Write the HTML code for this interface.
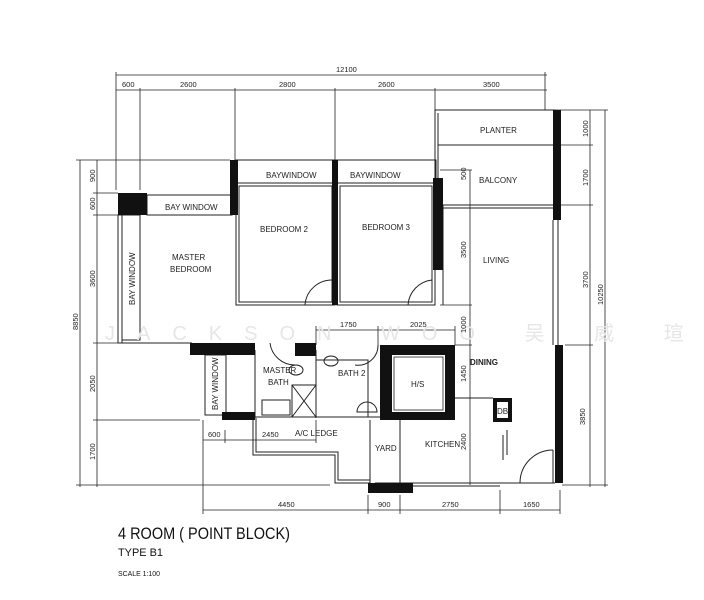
<!DOCTYPE html>
<html><head><meta charset="utf-8"><style>
body{margin:0;background:#fff;}
svg{display:block;font-family:"Liberation Sans","Noto Sans CJK SC",sans-serif;}
.t{font-size:8px;fill:#222;}
.d{font-size:7.5px;fill:#222;}
</style></head><body>
<svg width="704" height="600" viewBox="0 0 704 600" xmlns="http://www.w3.org/2000/svg">
<g stroke="#222" stroke-width="0.8" fill="none">
<line x1="116" y1="75" x2="547" y2="75"/>
<line x1="116" y1="90" x2="547" y2="90"/>
<line x1="116" y1="72" x2="116" y2="190"/>
<line x1="140" y1="88" x2="140" y2="190"/>
<line x1="235" y1="88" x2="235" y2="160"/>
<line x1="335" y1="88" x2="335" y2="160"/>
<line x1="435" y1="88" x2="435" y2="110"/>
<line x1="545" y1="72" x2="545" y2="110"/>
<line x1="80" y1="160" x2="80" y2="487"/>
<line x1="97" y1="160" x2="97" y2="487"/>
<line x1="76" y1="160" x2="230" y2="160"/>
<line x1="93" y1="193" x2="118" y2="193"/>
<line x1="93" y1="215" x2="118" y2="215"/>
<line x1="93" y1="343" x2="120" y2="343"/>
<line x1="93" y1="420" x2="200" y2="420"/>
<line x1="76" y1="485" x2="330" y2="485"/>
<line x1="590" y1="110" x2="590" y2="487"/>
<line x1="605" y1="110" x2="605" y2="487"/>
<line x1="555" y1="110" x2="608" y2="110"/>
<line x1="555" y1="145" x2="593" y2="145"/>
<line x1="555" y1="205" x2="593" y2="205"/>
<line x1="565" y1="345" x2="593" y2="345"/>
<line x1="562" y1="485" x2="608" y2="485"/>
<line x1="470" y1="170" x2="470" y2="485"/>
<line x1="440" y1="170" x2="472" y2="170"/>
<line x1="445" y1="205" x2="472" y2="205"/>
<line x1="440" y1="305" x2="472" y2="305"/>
<line x1="455" y1="345" x2="472" y2="345"/>
<line x1="455" y1="398" x2="472" y2="398"/>
<line x1="316" y1="330" x2="455" y2="330"/>
<line x1="316" y1="326" x2="316" y2="345"/>
<line x1="378" y1="326" x2="378" y2="345"/>
<line x1="455" y1="326" x2="455" y2="345"/>
<line x1="203" y1="510" x2="560" y2="510"/>
<line x1="203" y1="420" x2="203" y2="514"/>
<line x1="368" y1="495" x2="368" y2="514"/>
<line x1="400" y1="495" x2="400" y2="514"/>
<line x1="500" y1="490" x2="500" y2="514"/>
<line x1="560" y1="490" x2="560" y2="514"/>
<line x1="203" y1="440" x2="316" y2="440"/>
<line x1="225" y1="430" x2="225" y2="443"/>
<line x1="316" y1="420" x2="316" y2="443"/>
</g>
<g stroke="#222" stroke-width="1" fill="none">
<rect x="236" y="160" width="200" height="23"/>
<rect x="236" y="183" width="99" height="122"/>
<rect x="239" y="186" width="93" height="116"/>
<rect x="337" y="183" width="98" height="122"/>
<rect x="340" y="186" width="92" height="116"/>
<rect x="147" y="195" width="85" height="20"/>
<rect x="118" y="215" width="4" height="128"/>
<rect x="122" y="215" width="18" height="125"/>
<line x1="118" y1="343" x2="192" y2="343"/>
<rect x="435" y="110" width="120" height="95"/>
<line x1="438" y1="113" x2="438" y2="205"/>
<line x1="438" y1="145" x2="553" y2="145"/>
<line x1="443" y1="205" x2="555" y2="205"/>
<line x1="443" y1="208" x2="555" y2="208"/>
<line x1="443" y1="205" x2="443" y2="305"/>
<line x1="553" y1="220" x2="553" y2="345"/>
<line x1="558" y1="220" x2="558" y2="345"/>
<rect x="205" y="355" width="21" height="60"/>
<path d="M253 418 V455 H335 V483 H370"/>
<path d="M256 418 V452 H338 V480 H370"/>
<line x1="255" y1="350" x2="255" y2="418"/>
<line x1="255" y1="417" x2="380" y2="417"/>
<line x1="316" y1="350" x2="316" y2="418"/>
<line x1="370" y1="420" x2="370" y2="483"/>
<line x1="375" y1="483" x2="555" y2="483"/>
<line x1="375" y1="486" x2="500" y2="486"/>
<line x1="400" y1="420" x2="400" y2="483"/>
<line x1="455" y1="398" x2="493" y2="398"/>
<rect x="316" y="360" width="52" height="57"/>
<rect x="262" y="400" width="28" height="15"/>
<path d="M357 412 a10 10 0 0 1 20 0 z"/>
<ellipse cx="296" cy="370" rx="7" ry="5"/>
<ellipse cx="331" cy="361" rx="7" ry="5"/>
<line x1="507" y1="430" x2="507" y2="455"/>
<line x1="503" y1="435" x2="503" y2="460"/>
<path d="M520 483 A33 33 0 0 1 553 450"/>
<line x1="553" y1="450" x2="553" y2="483"/>
<path d="M305 305 A27 27 0 0 1 332 280"/>
<path d="M408 305 A27 27 0 0 1 432 280"/>
<path d="M270 343 A25 25 0 0 0 295 365"/>
<path d="M378 345 A20 20 0 0 1 355 365"/>
<rect x="292" y="385" width="24" height="32"/>
<line x1="292" y1="385" x2="316" y2="417"/>
<line x1="316" y1="385" x2="292" y2="417"/>
</g>
<g fill="#111">
<rect x="118" y="193" width="29" height="22"/>
<rect x="230" y="160" width="8" height="55"/>
<rect x="332" y="160" width="6" height="145"/>
<rect x="433" y="178" width="10" height="92"/>
<rect x="553" y="110" width="8" height="110"/>
<rect x="555" y="345" width="8" height="138"/>
<rect x="190" y="343" width="65" height="12"/>
<rect x="222" y="412" width="33" height="8"/>
<rect x="295" y="343" width="21" height="13"/>
<rect x="380" y="345" width="75" height="10"/>
<rect x="380" y="345" width="12" height="75"/>
<rect x="445" y="345" width="10" height="75"/>
<rect x="380" y="412" width="75" height="8"/>
<rect x="368" y="483" width="45" height="10"/>
<rect x="493" y="398" width="19" height="24"/>
</g>
<rect x="497" y="402" width="11" height="16" fill="#fff"/>
<rect x="394" y="357" width="49" height="53" fill="#fff" stroke="#222" stroke-width="0.8"/>
<text x="105" y="340" font-size="20" fill="#e6e6e6" letter-spacing="22">JACKSON WOO 吴 威 瑄</text>
<text class="d" x="336" y="72">12100</text>
<text class="d" x="122" y="87">600</text>
<text class="d" x="180" y="87">2600</text>
<text class="d" x="279" y="87">2800</text>
<text class="d" x="378" y="87">2600</text>
<text class="d" x="483" y="87">3500</text>
<g class="d">
<text transform="translate(78,330) rotate(-90)">8850</text>
<text transform="translate(95,182) rotate(-90)">900</text>
<text transform="translate(95,210) rotate(-90)">600</text>
<text transform="translate(95,287) rotate(-90)">3600</text>
<text transform="translate(95,392) rotate(-90)">2050</text>
<text transform="translate(95,460) rotate(-90)">1700</text>
<text transform="translate(588,137) rotate(-90)">1000</text>
<text transform="translate(588,186) rotate(-90)">1700</text>
<text transform="translate(588,288) rotate(-90)">3700</text>
<text transform="translate(603,305) rotate(-90)">10250</text>
<text transform="translate(585,425) rotate(-90)">3850</text>
<text transform="translate(466,180) rotate(-90)">500</text>
<text transform="translate(466,258) rotate(-90)">3500</text>
<text transform="translate(466,333) rotate(-90)">1000</text>
<text transform="translate(466,382) rotate(-90)">1450</text>
<text transform="translate(466,450) rotate(-90)">2400</text>
</g>
<text class="d" x="340" y="327">1750</text>
<text class="d" x="410" y="327">2025</text>
<text class="d" x="278" y="507">4450</text>
<text class="d" x="378" y="507">900</text>
<text class="d" x="442" y="507">2750</text>
<text class="d" x="523" y="507">1650</text>
<text class="d" x="208" y="437">600</text>
<text class="d" x="262" y="437">2450</text>
<text class="t" x="295" y="436">A/C LEDGE</text>
<text class="t" x="165" y="210">BAY WINDOW</text>
<text class="t" x="266" y="178">BAYWINDOW</text>
<text class="t" x="350" y="178">BAYWINDOW</text>
<text class="t" x="172" y="260">MASTER</text>
<text class="t" x="170" y="272">BEDROOM</text>
<text class="t" x="260" y="232">BEDROOM 2</text>
<text class="t" x="362" y="230">BEDROOM 3</text>
<text class="t" transform="translate(135,305) rotate(-90)">BAY WINDOW</text>
<text class="t" transform="translate(218,410) rotate(-90)">BAY WINDOW</text>
<text class="t" x="480" y="133">PLANTER</text>
<text class="t" x="479" y="183">BALCONY</text>
<text class="t" x="483" y="263">LIVING</text>
<text class="t" x="470" y="365" font-weight="bold">DINING</text>
<text class="t" x="411" y="387">H/S</text>
<text class="t" x="425" y="447">KITCHEN</text>
<text class="t" x="375" y="451">YARD</text>
<text class="t" x="263" y="373">MASTER</text>
<text class="t" x="268" y="385">BATH</text>
<text class="t" x="338" y="376">BATH 2</text>
<text class="t" x="497" y="414" font-size="7" fill="#fff">DB</text>
<text x="118" y="539" font-size="17" fill="#111" textLength="172" lengthAdjust="spacingAndGlyphs">4 ROOM ( POINT BLOCK)</text>
<text x="118" y="556" font-size="11" fill="#111" textLength="45" lengthAdjust="spacingAndGlyphs">TYPE B1</text>
<text x="118" y="576" font-size="7" fill="#111" textLength="42" lengthAdjust="spacingAndGlyphs">SCALE 1:100</text>
</svg>
</body></html>
